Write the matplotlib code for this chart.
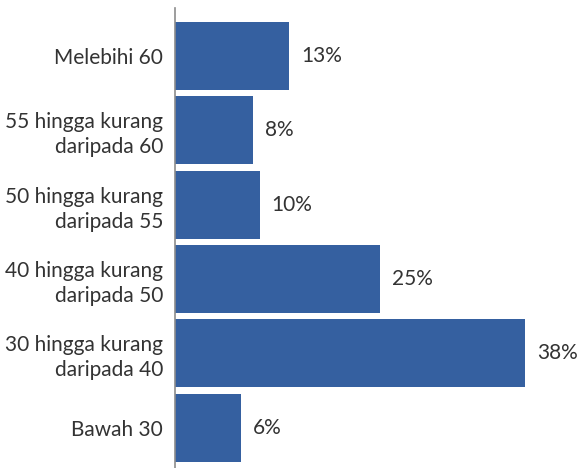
import matplotlib

matplotlib.use("Agg")
import matplotlib.pyplot as plt

# categories top to bottom
categories = [
    "Melebihi 60",
    "55 hingga kurang\ndaripada 60",
    "50 hingga kurang\ndaripada 55",
    "40 hingga kurang\ndaripada 50",
    "30 hingga kurang\ndaripada 40",
    "Bawah 30",
]
# bar lengths as drawn in the picture (the printed labels are rounded differently)
bar_values = [12.4, 8.5, 9.2, 22.3, 38.0, 7.2]
value_labels = ["13%", "8%", "10%", "25%", "38%", "6%"]

BLUE = "#3560a0"
TEXT = "#333333"

plt.rcParams["font.family"] = ["Lato", "DejaVu Sans"]

fig = plt.figure(figsize=(5.79, 4.68), dpi=100)
ax = fig.add_axes([175 / 579, 0.0, 368.4 / 579, 1 - 8 / 468])

y = list(range(len(categories)))
ax.barh(y, bar_values, height=0.914, color=BLUE)
for yi, v, lab in zip(y, bar_values, value_labels):
    ax.annotate(lab, (v, yi), xytext=(8.5, 0), textcoords="offset points",
                va="center", ha="left", fontsize=15, color=TEXT)

ax.set_xlim(0, 40)
ax.set_ylim(5.54, -0.645)
ax.set_yticks(y)
ax.set_yticklabels(categories, fontsize=15, color=TEXT, linespacing=1.3)
ax.tick_params(axis="y", length=0, pad=8.5)
ax.set_xticks([])
for s in ("top", "right", "bottom"):
    ax.spines[s].set_visible(False)
ax.spines["left"].set_color("#8c8c8c")
ax.spines["left"].set_linewidth(1.2)

fig.savefig("out.png", dpi=100)
